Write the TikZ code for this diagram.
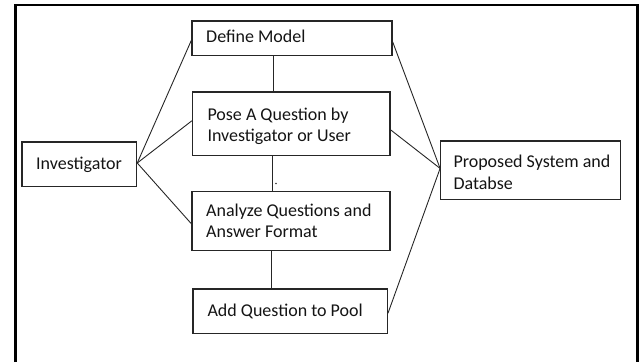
\documentclass[tikz,border=0pt]{standalone}
\usepackage{fontspec}
\setmainfont{Carlito}
\usetikzlibrary{calc}
\begin{document}
\begin{tikzpicture}[x=1pt,y=-1pt,
  box/.style={draw=black!85,line width=1.2pt,rectangle,inner sep=0pt},
  txt/.style={inner sep=0pt,anchor=base west,align=left,font=\fontsize{18}{21.7}\selectfont,text=black!92},
  link/.style={draw=black!85,line width=0.9pt},
  frame/.style={draw=black,line width=2.6pt}]
\useasboundingbox (0,0) rectangle (642,362);
% outer frame (open at the bottom)
\draw[frame] (15.3,362) -- (15.3,5) -- (637.7,5) -- (637.7,362);
% boxes
\node[box,minimum width=200pt,minimum height=34.3pt] (define) at (292,38.2) {};
\node[box,minimum width=197.5pt,minimum height=63.5pt] (pose) at (291.2,123.8) {};
\node[box,minimum width=198pt,minimum height=59pt] (analyze) at (291,220.8) {};
\node[box,minimum width=194.3pt,minimum height=44.7pt] (add) at (290.2,311.3) {};
\node[box,minimum width=114.7pt,minimum height=44.7pt] (inv) at (79.3,164.3) {};
\node[box,minimum width=180pt,minimum height=58.3pt] (prop) at (530.7,170.2) {};
% texts (base of a two-line text is the baseline of its last line)
\node[txt] (tdefine) at (206,42.7) {Define Model};
\node[txt] (tpose) at (207.3,141.7) {Pose A Question by\\Investigator or User};
\node[txt] (tanalyze) at (206,237.7) {Analyze Questions and\\Answer Format};
\node[txt] (tadd) at (207.3,316.7) {Add Question to Pool};
\node[txt] (tinv) at (36,169.3) {Investigator};
\node[txt] (tprop) at (453.3,189) {Proposed System and\\Databse};
% vertical links
\coordinate (c1) at (273,0);
\coordinate (c2) at (272,0);
\coordinate (c3) at (271,0);
\draw[link] (define.south -| c1) -- (pose.north -| c1);
\draw[link] (pose.south -| c2) -- (analyze.north -| c2);
\draw[link] (analyze.south -| c3) -- (add.north -| c3);
\fill[black!80] (276,183.5) circle (0.9pt);
% investigator links
\coordinate (ie) at ($(inv.east)+(0,-1.3)$);
\draw[link] (ie) -- ($(define.west)+(0,2)$);
\draw[link] (ie) -- ($(pose.west)+(0,-3)$);
\draw[link] (ie) -- ($(analyze.west)+(0,3)$);
% proposed system links
\coordinate (pw) at ($(prop.west)+(0,-1.8)$);
\draw[link] (pw) -- ($(define.east)+(0,3.5)$);
\draw[link] (pw) -- ($(pose.east)+(0,6)$);
\draw[link] (pw) -- ($(add.east)+(0,2)$);
\end{tikzpicture}
\end{document}
